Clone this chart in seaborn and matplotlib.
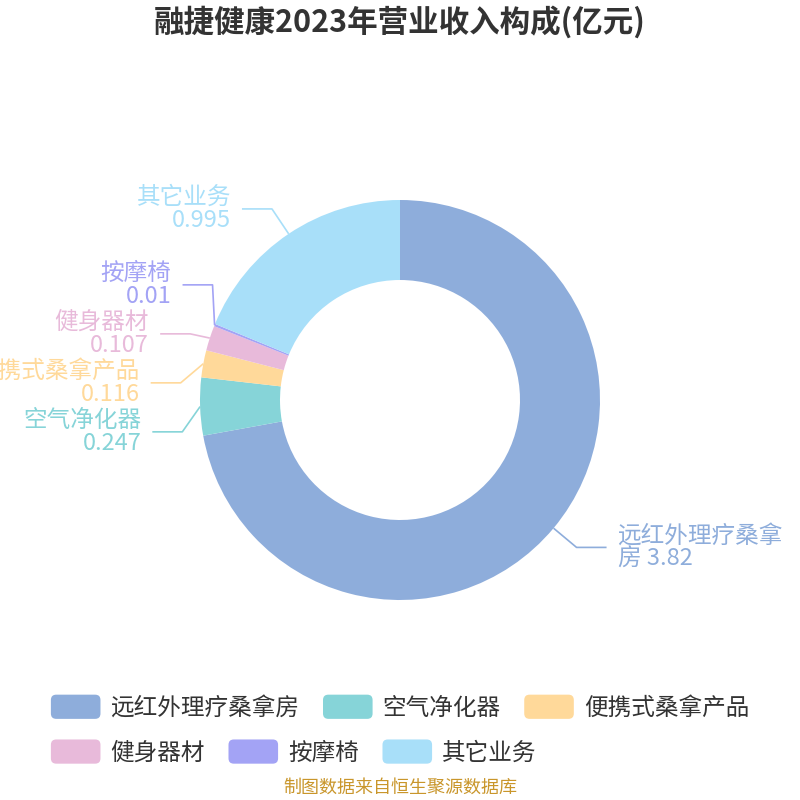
import textwrap
import numpy as np
import matplotlib
matplotlib.use('Agg')
import matplotlib.pyplot as plt
import seaborn as sns
from matplotlib.patches import Wedge, FancyBboxPatch
from matplotlib.legend_handler import HandlerPatch

# 数据
names = ['远红外理疗桑拿房', '空气净化器', '便携式桑拿产品', '健身器材', '按摩椅', '其它业务']
values = [3.82, 0.247, 0.116, 0.107, 0.01, 0.995]
value_text = ['3.82', '0.247', '0.116', '0.107', '0.01', '0.995']
colors = ['#8EADDB', '#86D4D8', '#FFD99A', '#E8BADA', '#A3A3F5', '#A8DFF9']

sns.set_style('white')
plt.rcParams['font.family'] = ['Noto Sans CJK SC', 'DejaVu Sans']
plt.rcParams['axes.unicode_minus'] = False


class RoundHandler(HandlerPatch):
    # 圆角图例色块
    def create_artists(self, legend, orig_handle, xdescent, ydescent,
                       width, height, fontsize, trans):
        p = FancyBboxPatch((-xdescent, -ydescent), width, height,
                           boxstyle=f'round,pad=0,rounding_size={height * 0.22}',
                           facecolor=orig_handle.get_facecolor(),
                           edgecolor='none', transform=trans)
        return [p]


def spread(ys, anchors, gap):
    # 简单的一维标签避让：单个标签保持原位，重叠的标签按锚点均值居中排开
    order = sorted(range(len(ys)), key=lambda i: ys[i])
    groups = [[i] for i in order]
    pos = {}
    while True:
        for g in groups:
            n = len(g)
            m = ys[g[0]] if n == 1 else np.mean([anchors[i] for i in g])
            for k, i in enumerate(g):
                pos[i] = m + (k - (n - 1) / 2) * gap
        merged = False
        for a in range(len(groups) - 1):
            if pos[groups[a + 1][0]] - pos[groups[a][-1]] < gap - 1e-9:
                groups[a] = groups[a] + groups[a + 1]
                del groups[a + 1]
                merged = True
                break
        if not merged:
            sizes = {}
            for g in groups:
                for i in g:
                    sizes[i] = len(g)
            return [pos[i] for i in range(len(ys))], [sizes[i] for i in range(len(ys))]


fig = plt.figure(figsize=(8, 8), dpi=100)
ax = fig.add_axes([0, 0, 1, 1])
wedges, _ = ax.pie(values, colors=colors, startangle=90, counterclock=False,
                   radius=1, wedgeprops=dict(width=0.4, linewidth=0))
ax.set_xlim(-2, 2)
ax.set_ylim(-2, 2)
ax.set_aspect('equal')
ax.axis('off')

# 标签与引导线
R = 1.15
mids = [np.deg2rad((w.theta1 + w.theta2) / 2) for w in wedges]
sides = [1 if np.cos(t) >= 0 else -1 for t in mids]
label_y = [R * np.sin(t) for t in mids]
group_n = [1] * len(mids)
for s in (-1, 1):
    idx = [i for i in range(len(mids)) if sides[i] == s]
    new, sz = spread([label_y[i] for i in idx],
                     [np.sin(mids[i]) for i in idx], 0.245)
    for i, y, n in zip(idx, new, sz):
        label_y[i] = y
        group_n[i] = n

for i, t in enumerate(mids):
    s = sides[i]
    y = label_y[i]
    x0, y0 = np.cos(t), np.sin(t)
    rx = R if group_n[i] == 1 else 1.10
    xe = s * np.sqrt(max(rx ** 2 - y ** 2, 0.0))
    xend = xe + s * 0.15
    ax.plot([x0, xe, xend], [y0, y, y], color=colors[i], lw=1.2,
            solid_capstyle='butt')
    txt = textwrap.fill(f'{names[i]} {value_text[i]}', width=7)
    ax.text(xend + s * 0.055, y, txt, color=colors[i], fontsize=17,
            ha='left' if s > 0 else 'right', va='center', linespacing=1.0)

fig.text(0.5, 0.972, '融捷健康2023年营业收入构成(亿元)', ha='center', va='center',
         fontsize=22, fontweight='bold', color='#333333')

# 图例（两行）
kw = dict(frameon=False, fontsize=17, handlelength=2.1, handleheight=1.2,
          handletextpad=0.42, columnspacing=1.0, labelcolor='#333333',
          handler_map={Wedge: RoundHandler()}, borderpad=0, borderaxespad=0)
leg1 = fig.legend(wedges[:3], names[:3], loc='center', ncol=3,
                  bbox_to_anchor=(0.5, 0.116), **kw)
fig.canvas.draw()
bb = leg1.get_window_extent().transformed(fig.transFigure.inverted())
leg2 = fig.legend(wedges[3:], names[3:], loc='center left', ncol=3,
                  bbox_to_anchor=(bb.x0, 0.06), **kw)

fig.text(0.5, 0.015, '制图数据来自恒生聚源数据库', ha='center', va='center',
         fontsize=13, color='#C9962B')

plt.savefig('out.png', dpi=100)
